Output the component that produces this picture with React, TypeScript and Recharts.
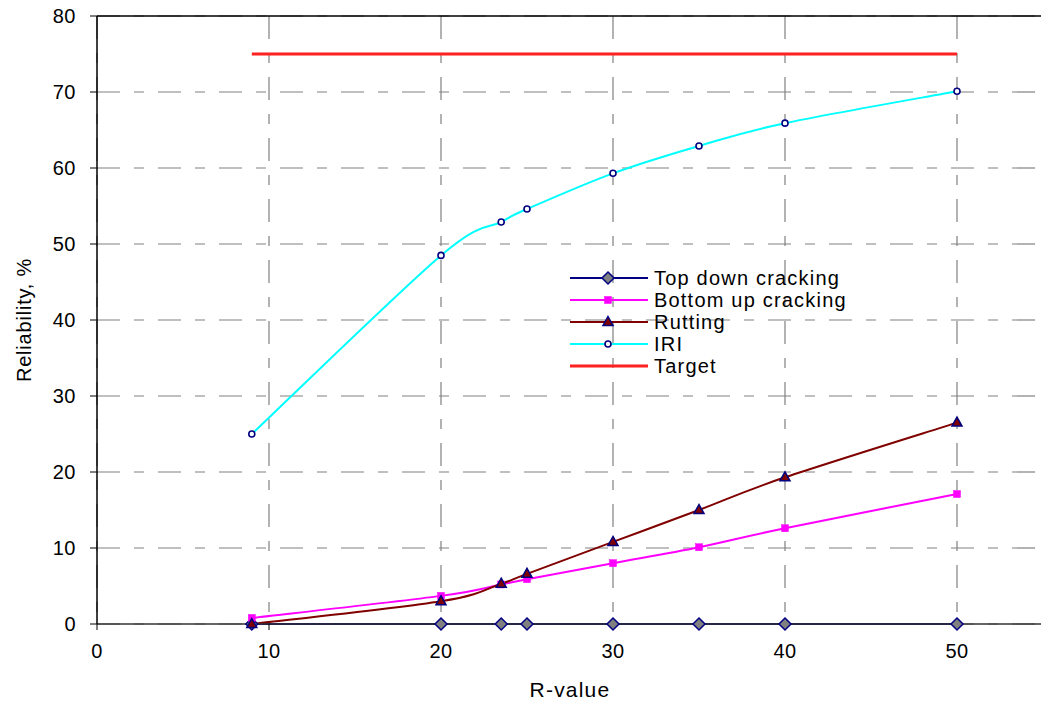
import React from 'react';
import { LineChart, Line, XAxis, YAxis, CartesianGrid, Legend, ReferenceLine } from 'recharts';

const rValues = [9, 20, 23.5, 25, 30, 35, 40, 50];
const topDown = [0, 0, 0, 0, 0, 0, 0, 0];
const bottomUp = [0.8, 3.7, 5.2, 5.9, 8.0, 10.1, 12.6, 17.1];
const rutting = [0.0, 3.0, 5.3, 6.6, 10.8, 15.0, 19.3, 26.5];
const iri = [25.0, 48.5, 52.9, 54.6, 59.3, 62.9, 65.9, 70.1];
const target = [75, 75, 75, 75, 75, 75, 75, 75];

const xTicks = [0, 10, 20, 30, 40, 50];
const yTicks = [0, 10, 20, 30, 40, 50, 60, 70, 80];

const seriesNames = ['Top down cracking', 'Bottom up cracking', 'Rutting', 'IRI', 'Target'];

const data = rValues.map((r, i) => ({
  r,
  topDown: topDown[i],
  bottomUp: bottomUp[i],
  rutting: rutting[i],
  iri: iri[i],
  target: target[i],
}));

const FONT = '"Liberation Sans", Arial, sans-serif';
const NAVY = '#000080';

// Excel-like smoothed line (Catmull-Rom style Bezier)
const smoothCurve = (context: any) => {
  let pts: [number, number][] = [];
  return {
    areaStart() {},
    areaEnd() {},
    lineStart() {
      pts = [];
    },
    point(x: number, y: number) {
      pts.push([+x, +y]);
    },
    lineEnd() {
      const n = pts.length;
      if (n === 0) return;
      context.moveTo(pts[0][0], pts[0][1]);
      if (n === 1) return;
      for (let i = 0; i < n - 1; i++) {
        const p0 = pts[i - 1] || pts[i];
        const p1 = pts[i];
        const p2 = pts[i + 1];
        const p3 = pts[i + 2] || pts[i + 1];
        const c1x = p1[0] + (p2[0] - p0[0]) / 6;
        const c1y = p1[1] + (p2[1] - p0[1]) / 6;
        const c2x = p2[0] - (p3[0] - p1[0]) / 6;
        const c2y = p2[1] - (p3[1] - p1[1]) / 6;
        context.bezierCurveTo(c1x, c1y, c2x, c2y, p2[0], p2[1]);
      }
    },
  };
};

const Diamond = ({ cx, cy }: { cx: number; cy: number }) => (
  <path d={`M${cx},${cy - 6} L${cx + 6},${cy} L${cx},${cy + 6} L${cx - 6},${cy} Z`} fill="#808080" stroke={NAVY} strokeWidth={1.5} />
);
const Square = ({ cx, cy }: { cx: number; cy: number }) => (
  <rect x={cx - 3.5} y={cy - 3.5} width={7} height={7} fill="#FF00FF" stroke="#FF00FF" strokeWidth={0.5} />
);
const Triangle = ({ cx, cy }: { cx: number; cy: number }) => (
  <path d={`M${cx},${cy - 5.5} L${cx + 5},${cy + 3.5} L${cx - 5},${cy + 3.5} Z`} fill="#800000" stroke={NAVY} strokeWidth={1.5} />
);
const Circle = ({ cx, cy }: { cx: number; cy: number }) => (
  <circle cx={cx} cy={cy} r={3} fill="#FFFFFF" stroke={NAVY} strokeWidth={1.6} />
);

const dotFn = (Comp: any, prefix: string) => (props: any) => {
  const { cx, cy, index } = props;
  if (cx == null || cy == null) return <g key={`${prefix}-${index}`} />;
  return (
    <g key={`${prefix}-${index}`}>
      <Comp cx={cx} cy={cy} />
    </g>
  );
};

const legendItems = [
  { name: seriesNames[0], color: NAVY, width: 2, Marker: Diamond },
  { name: seriesNames[1], color: '#FF00FF', width: 2, Marker: Square },
  { name: seriesNames[2], color: '#800000', width: 2, Marker: Triangle },
  { name: seriesNames[3], color: '#00FFFF', width: 2, Marker: Circle },
  { name: seriesNames[4], color: '#FF2020', width: 3, Marker: null as any },
];

const renderLegend = () => (
  <div style={{ fontFamily: FONT, fontSize: 20, letterSpacing: '1.2px', color: '#000', lineHeight: '22px' }}>
    {legendItems.map((it) => (
      <div key={it.name} style={{ display: 'flex', alignItems: 'center', height: 22 }}>
        <svg width={88} height={22} style={{ display: 'block' }}>
          <line x1={4} y1={11} x2={82} y2={11} stroke={it.color} strokeWidth={it.width} />
          {it.Marker ? <it.Marker cx={42} cy={11} /> : null}
        </svg>
        <span style={{ whiteSpace: 'nowrap', lineHeight: '22px' }}>{it.name}</span>
      </div>
    ))}
  </div>
);

const YTitle = (props: any) => {
  const vb = props.viewBox || { x: 0, y: 16, width: 97, height: 608 };
  const x = vb.x + 24;
  const y = vb.y + vb.height / 2;
  return (
    <text x={x} y={y} transform={`rotate(-90 ${x} ${y})`} textAnchor="middle" dominantBaseline="central" fontFamily={FONT} fontSize={20} letterSpacing="0.8px" fill="#000">
      Reliability, %
    </text>
  );
};

const XTitle = (props: any) => {
  const vb = props.viewBox || { x: 97, y: 624, width: 946, height: 81 };
  const x = vb.x + vb.width / 2;
  const y = vb.y + 65;
  return (
    <text x={x} y={y} textAnchor="middle" dominantBaseline="central" fontFamily={FONT} fontSize={21} letterSpacing="1.2px" fill="#000">
      R-value
    </text>
  );
};

export default function App() {
  return (
    <div style={{ position: 'absolute', left: 0, top: 0, width: 1041, height: 705, overflow: 'hidden', background: '#fff' }}>
      <LineChart width={1043} height={705} data={data} margin={{ top: 16, right: 0, bottom: 0, left: 0 }}>
        <CartesianGrid stroke="#808080" strokeWidth={1.2} strokeDasharray="23 14 10 14" />
        <XAxis
          dataKey="r"
          type="number"
          domain={[0, 55]}
          ticks={xTicks}
          height={81}
          tickSize={6}
          tickMargin={14}
          axisLine={{ stroke: '#333333', strokeWidth: 1.5 }}
          tickLine={{ stroke: '#000' }}
          tick={{ fill: '#000', fontFamily: FONT, fontSize: 20, letterSpacing: '0.5px' }}
          label={{ content: XTitle }}
        />
        <YAxis
          type="number"
          domain={[0, 80]}
          ticks={yTicks}
          width={97}
          tickSize={7}
          tickMargin={14}
          axisLine={{ stroke: '#000', strokeWidth: 1.5 }}
          tickLine={{ stroke: '#000' }}
          tick={{ fill: '#000', fontFamily: FONT, fontSize: 20, letterSpacing: '0.5px' }}
          label={{ content: YTitle }}
        />
        <ReferenceLine y={80} stroke="#000" strokeWidth={1.5} />
        <Line dataKey="topDown" name={seriesNames[0]} type={smoothCurve as any} stroke={NAVY} strokeWidth={2.2} dot={dotFn(Diamond, 'td')} activeDot={false} isAnimationActive={false} />
        <Line dataKey="bottomUp" name={seriesNames[1]} type={smoothCurve as any} stroke="#FF00FF" strokeWidth={2} dot={dotFn(Square, 'bu')} activeDot={false} isAnimationActive={false} />
        <Line dataKey="rutting" name={seriesNames[2]} type={smoothCurve as any} stroke="#800000" strokeWidth={2} dot={dotFn(Triangle, 'ru')} activeDot={false} isAnimationActive={false} />
        <Line dataKey="iri" name={seriesNames[3]} type={smoothCurve as any} stroke="#00FFFF" strokeWidth={2} dot={dotFn(Circle, 'iri')} activeDot={false} isAnimationActive={false} />
        <Line dataKey="target" name={seriesNames[4]} type="linear" stroke="#FF2020" strokeWidth={3.2} dot={false} activeDot={false} isAnimationActive={false} />
        <Legend
          layout="vertical"
          align="center"
          verticalAlign="middle"
          content={renderLegend}
          wrapperStyle={{ left: 566, top: 267, width: 330, height: 112 }}
        />
      </LineChart>
    </div>
  );
}
